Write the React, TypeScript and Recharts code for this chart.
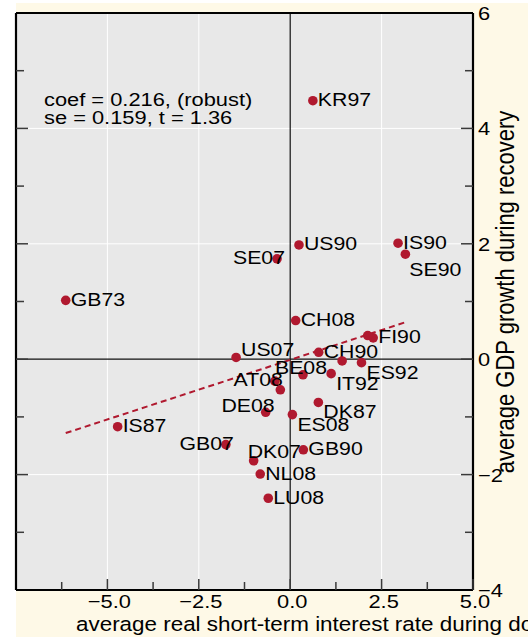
import React from 'react';
import { ScatterChart, Scatter, XAxis, YAxis, CartesianGrid, ReferenceLine } from 'recharts';

// episodes: real rate during downturn vs GDP growth in recovery
const episodes = ['KR97', 'US90', 'IS90', 'SE90', 'SE07', 'GB73', 'CH08', 'FI90', '', 'US07', 'CH90', '', 'ES92', 'BE08', 'IT92', 'AT08', '', 'DE08', 'DK87', 'ES08', 'IS87', 'GB07', 'GB90', 'DK07', 'NL08', 'LU08'];
const realRate = [0.62, 0.24, 2.95, 3.15, -0.36, -6.14, 0.15, 2.27, 2.12, -1.48, 0.78, 1.42, 1.95, 0.35, 1.12, -0.42, -0.27, -0.67, 0.77, 0.06, -4.72, -1.76, 0.36, -1.0, -0.82, -0.6];
const gdpGrowth = [4.48, 1.98, 2.01, 1.82, 1.74, 1.02, 0.67, 0.37, 0.41, 0.03, 0.12, -0.03, -0.06, -0.27, -0.25, -0.38, -0.53, -0.92, -0.75, -0.96, -1.17, -1.48, -1.57, -1.76, -1.99, -2.41];

// fitted line end points
const fitRate = [-6.14, 3.15];
const fitGrowth = [-1.28, 0.64];

const xTicks = [-6.25, -5, -3.75, -2.5, -1.25, 0, 1.25, 2.5, 3.75, 5];
const xMajor = [-5, -2.5, 0, 2.5, 5];
const yTicks = [-4, -3, -2, -1, 0, 1, 2, 3, 4, 5, 6];
const yMajor = [-4, -2, 0, 2, 4, 6];

const statText = ['coef = 0.216, (robust)', 'se = 0.159, t = 1.36'];
const xTitle = 'average real short-term interest rate during downturn';
const yTitle = 'average GDP growth during recovery';

// label clock positions (Stata style), 3 o'clock if not listed
const labelClock: Record<string, number> = {
  SE07: 9, GB07: 9, AT08: 9, DE08: 11, BE08: 12, DK07: 1, US07: 2,
  DK87: 4, ES08: 4, IT92: 4, ES92: 4, SE90: 5,
};

const RED = '#B0192F';
const CREAM = '#FEF9E7';
const PLOT_BG = '#E8E8E8';
const TICK = '#3a3a3a';
const FONT = '"Liberation Sans", Arial, sans-serif';
const SX = 1.15;
const PLOT_LEFT = 16;

const points = episodes.map((code, i) => ({ code, x: realRate[i], y: gdpGrowth[i] }));
const fitData = fitRate.map((x, i) => ({ x, y: fitGrowth[i] }));

const minus = (s: string) => s.replace('-', '\u2212');

const Txt = ({ x, y, size, anchor = 'start', rotate = false, children }: any) => (
  <text
    transform={`translate(${x},${y}) scale(${SX},1)${rotate ? ' rotate(-90)' : ''}`}
    textAnchor={anchor}
    fontSize={size}
    fontFamily={FONT}
    fill="#000"
  >
    {children}
  </text>
);

const XTick = (props: any) => {
  const { x, y, payload } = props;
  const v = payload.value;
  const major = xMajor.includes(v);
  return (
    <g>
      <line x1={x} x2={x} y1={y} y2={y - (major ? 11 : 8)} stroke={TICK} strokeWidth={1.5} />
      {major && <Txt x={x + 2} y={y + 18} size={19} anchor="middle">{minus(v.toFixed(1))}</Txt>}
    </g>
  );
};

const YTick = (props: any) => {
  const { x, y, payload } = props;
  const v = payload.value;
  const major = yMajor.includes(v);
  const len = major ? 12 : 8;
  const edge = v === 6 || v === -4;
  return (
    <g>
      {!edge && <line x1={x} x2={x - len} y1={y} y2={y} stroke={TICK} strokeWidth={1.5} />}
      {!edge && <line x1={PLOT_LEFT} x2={PLOT_LEFT + len} y1={y} y2={y} stroke={TICK} strokeWidth={1.5} />}
      {major && <Txt x={x + 5} y={y + 7} size={19}>{minus(String(v))}</Txt>}
    </g>
  );
};

const Dot = (props: any) => {
  const { cx, cy, payload } = props;
  const code: string = payload.code;
  const clock = labelClock[code] ?? 3;
  let tx = cx + 5;
  let ty = cy + 5.5;
  let anchor = 'start';
  switch (clock) {
    case 9: tx = cx + 8; ty = cy + 5; anchor = 'end'; break;
    case 11: tx = cx + 9; ty = cy; anchor = 'end'; break;
    case 12: tx = cx - 2; ty = cy - 1; anchor = 'middle'; break;
    case 1: tx = cx - 6; ty = cy - 3; break;
    case 2: tx = cx + 5; ty = cy - 1; break;
    case 4: tx = cx + 5; ty = cy + 16; break;
    case 5: tx = cx + 4; ty = cy + 22; break;
  }
  return (
    <g>
      <circle cx={cx} cy={cy} r={4.8} fill={RED} />
      {code && <Txt x={tx} y={ty} size={18.5} anchor={anchor}>{code}</Txt>}
    </g>
  );
};

const App: React.FC = () => {
  return (
    <div style={{ position: 'absolute', left: 0, top: 0, width: 528, height: 637, background: '#fff', overflow: 'hidden' }}>
      <div style={{ position: 'absolute', left: 16, top: 3, right: 0, bottom: 0, background: CREAM }} />
      <div style={{ position: 'absolute', left: 0, top: 0 }}>
        <ScatterChart width={528} height={637} margin={{ top: 13, right: 0, bottom: 0, left: PLOT_LEFT }}>
          <CartesianGrid
            fill={PLOT_BG}
            fillOpacity={1}
            stroke="#ffffff"
            strokeWidth={1}
            verticalValues={[-5, -2.5, 2.5]}
            horizontalValues={[-2, 2, 4]}
          />
          <XAxis
            type="number"
            dataKey="x"
            domain={[-7.5, 5]}
            allowDataOverflow
            ticks={xTicks}
            interval={0}
            height={47}
            axisLine={false}
            tickLine={false}
            tickSize={0}
            tickMargin={0}
            tick={<XTick />}
          />
          <YAxis
            type="number"
            dataKey="y"
            orientation="right"
            domain={[-4, 6]}
            allowDataOverflow
            ticks={yTicks}
            interval={0}
            width={55}
            axisLine={false}
            tickLine={false}
            tickSize={0}
            tickMargin={0}
            tick={<YTick />}
          />
          <ReferenceLine x={0} stroke="#111" strokeWidth={1.2} />
          <ReferenceLine y={0} stroke="#111" strokeWidth={1.2} />
          <ReferenceLine x={-7.5} stroke="#000" strokeWidth={2.2} />
          <ReferenceLine x={5} stroke="#000" strokeWidth={2.2} />
          <ReferenceLine y={6} stroke="#000" strokeWidth={2.2} />
          <ReferenceLine y={-4} stroke="#000" strokeWidth={2.2} />
          <Scatter
            data={fitData}
            line={{ stroke: RED, strokeWidth: 2, strokeDasharray: '6 4' }}
            lineType="joint"
            shape={() => <g />}
            isAnimationActive={false}
          />
          <Scatter data={points} shape={<Dot />} isAnimationActive={false} />
        </ScatterChart>
      </div>
      <svg width={528} height={637} style={{ position: 'absolute', left: 0, top: 0, pointerEvents: 'none' }}>
        {statText.map((t, i) => (
          <Txt key={t} x={44} y={106 + i * 17.5} size={19}>{t}</Txt>
        ))}
        <Txt x={76} y={631} size={19.5}>{xTitle}</Txt>
        <Txt x={514} y={292} size={22} anchor="middle" rotate>{yTitle}</Txt>
      </svg>
    </div>
  );
};

export default App;
